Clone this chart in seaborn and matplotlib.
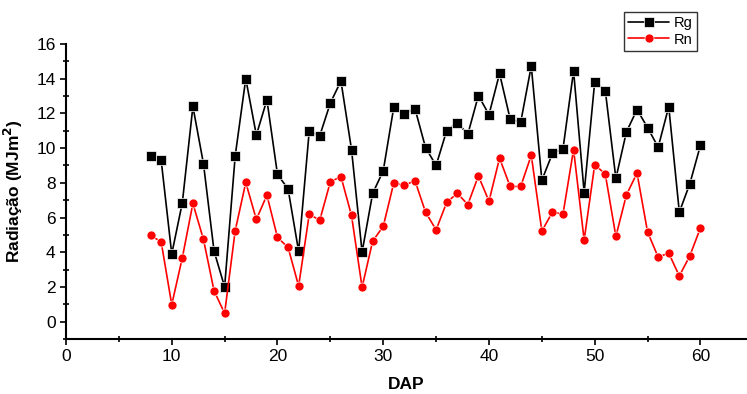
import matplotlib
matplotlib.use("Agg")
import matplotlib.pyplot as plt
import seaborn as sns
import pandas as pd
from matplotlib.ticker import MultipleLocator

dap = list(range(8, 61))
rg = [9.55, 9.3, 3.9, 6.85, 12.4, 9.1, 4.07, 2.0, 9.55, 14.0, 10.75, 12.78, 8.48,
      7.65, 4.05, 10.97, 10.72, 12.6, 13.87, 9.92, 4.01, 7.39, 8.69, 12.37, 11.97,
      12.28, 10.03, 9.0, 11.01, 11.47, 10.8, 13.03, 11.93, 14.3, 11.68, 11.49, 14.73,
      8.15, 9.69, 9.96, 14.45, 7.44, 13.83, 13.31, 8.25, 10.94, 12.22, 11.18, 10.05,
      12.39, 6.31, 7.96, 10.17]
rn = [4.97, 4.6, 0.98, 3.68, 6.81, 4.74, 1.78, 0.48, 5.24, 8.02, 5.89, 7.29, 4.85,
      4.28, 2.05, 6.18, 5.85, 8.06, 8.36, 6.12, 1.98, 4.64, 5.49, 8.0, 7.85, 8.13,
      6.31, 5.29, 6.87, 7.4, 6.75, 8.4, 6.94, 9.42, 7.79, 7.79, 9.59, 5.22, 6.31, 6.2,
      9.92, 4.7, 9.05, 8.5, 4.91, 7.31, 8.56, 5.16, 3.72, 3.95, 2.63, 3.8, 5.41]
series = ["Rg", "Rn"]

df = pd.DataFrame({
    "DAP": dap * 2,
    "val": rg + rn,
    "serie": [series[0]] * len(dap) + [series[1]] * len(dap),
})

sns.set_style("ticks")
plt.rcParams['font.family'] = ['Liberation Sans', 'DejaVu Sans']

fig = plt.figure(figsize=(7.47, 3.94), dpi=100)
ax = fig.add_axes([66/747, 55/394, 1 - 66/747, (339-44)/394])

sns.lineplot(data=df, x="DAP", y="val", hue="serie", style="serie",
             palette={"Rg": "black", "Rn": "#ff0000"},
             markers={"Rg": "s", "Rn": "o"}, dashes=False,
             markersize=6.5, markeredgewidth=0.5, linewidth=1.2, ax=ax)
for line in ax.lines:
    line.set_markeredgecolor('white')

ax.set_xlim(0, 64.4)
ax.set_ylim(-1, 16)
ax.xaxis.set_major_locator(MultipleLocator(10))
ax.xaxis.set_minor_locator(MultipleLocator(5))
ax.yaxis.set_major_locator(MultipleLocator(2))
ax.yaxis.set_minor_locator(MultipleLocator(1))
ax.tick_params(which='major', direction='out', length=4, width=1.2, labelsize=12.5,
               colors='black', labelcolor='black')
ax.tick_params(which='minor', direction='inout', length=4, width=1.2, colors='black')
for s in ['top', 'right']:
    ax.spines[s].set_visible(False)
for s in ['left', 'bottom']:
    ax.spines[s].set_linewidth(1.5)
    ax.spines[s].set_color('black')

ax.set_xlabel("DAP", fontsize=12.5, fontweight='bold', labelpad=9, color='black')
ax.set_ylabel(r"Radiação (MJm$^\mathbf{2}$)", fontsize=12.5, fontweight='bold',
              labelpad=8, color='black')

h, l = ax.get_legend_handles_labels()
for hh in h:
    hh.set_markeredgecolor('white')
leg = ax.legend(h, l, loc='upper left', bbox_to_anchor=(624/747, 1 - 12/394),
                bbox_transform=fig.transFigure, frameon=True, fancybox=False,
                fontsize=10.5, handlelength=2.8, borderpad=0.3, labelspacing=0.15,
                handletextpad=0.3, borderaxespad=0)
leg.get_frame().set_edgecolor('black')
leg.get_frame().set_linewidth(1.0)
for t in leg.get_texts():
    t.set_color('black')

fig.savefig("out.png", dpi=100)
